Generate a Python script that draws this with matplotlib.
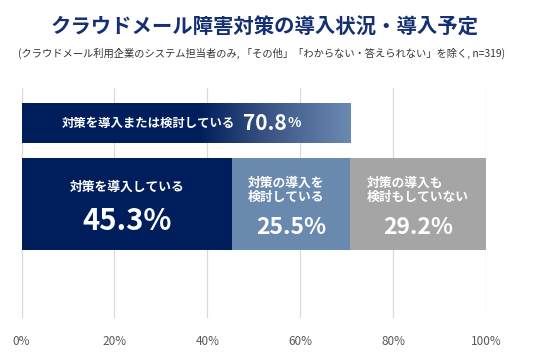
import numpy as np
import matplotlib
matplotlib.use('Agg')
import matplotlib.pyplot as plt
from matplotlib.colors import LinearSegmentedColormap

plt.rcParams['font.family'] = ['Noto Sans CJK JP', 'DejaVu Sans']

title = 'クラウドメール障害対策の導入状況・導入予定'
subtitle = '(クラウドメール利用企業のシステム担当者のみ, 「その他」「わからない・答えられない」を除く, n=319)'

total_label = '対策を導入または検討している'
total_value = 70.8

seg_labels = ['対策を導入している', '対策の導入を\n検討している', '対策の導入も\n検討もしていない']
seg_values = [45.3, 25.5, 29.2]
seg_colors = ['#001E5C', '#6A89AE', '#A5A5A5']

ticks = [0, 20, 40, 60, 80, 100]

W, H = 551, 356
fig = plt.figure(figsize=(W / 100, H / 100), dpi=100)
ax = fig.add_axes([21.5 / W, (H - 318) / H, (486 - 21.5) / W, 230 / H])
ax.set_xlim(0, 100)
ax.set_ylim(0, 230)

# bar positions in axis units (0 = bottom of plot)
y_top, h_top = 195, 40
y_bot, h_bot = 114, 92

for t in ticks:
    ax.axvline(t, color='#D9D9D9', lw=0.9, zorder=0)

# top bar with gradient
bar = ax.barh(y_top, total_value, height=h_top, color='none', zorder=2)[0]
cmap = LinearSegmentedColormap.from_list('g', [(0, '#001E5C'), (0.54, '#001E5C'),
                                               (0.75, '#3A5585'), (1, '#6B8AB1')])
grad = np.linspace(0, 1, 256).reshape(1, -1)
im = ax.imshow(grad, cmap=cmap, aspect='auto', zorder=2,
               extent=[0, total_value, y_top - h_top / 2, y_top + h_top / 2])
im.set_clip_path(bar)

ax.text(27.4, y_top, total_label, color='white', fontsize=8.9,
        fontweight='bold', ha='center', va='center', zorder=3)
num = ax.text(47.7, y_top, f'{total_value:.1f}', color='white', fontsize=15,
              fontweight='bold', ha='left', va='center', zorder=3)
ax.annotate('%', xy=(1, 0), xycoords=num, xytext=(0.5, 2.5), textcoords='offset points',
            color='white', fontsize=10, fontweight='bold', ha='left', va='bottom', zorder=3)

left = 0
for i, (lab, v, c) in enumerate(zip(seg_labels, seg_values, seg_colors)):
    ax.barh(y_bot, v, left=left, height=h_bot, color=c, zorder=2)
    if i == 0:
        ax.text(left + v / 2, y_bot + 17, lab, color='white', fontsize=9.2,
                fontweight='bold', ha='center', va='center', zorder=3)
        ax.text(left + v / 2, y_bot - 17, f'{v:.1f}%', color='white', fontsize=21,
                fontweight='bold', ha='center', va='center', zorder=3)
    else:
        ax.text(left + 3.5, y_bot + 14, lab, color='white', fontsize=9.2,
                fontweight='bold', ha='left', va='center', linespacing=1.15, zorder=3)
        ax.text(left + v / 2, y_bot - 24, f'{v:.1f}%', color='white', fontsize=16.5,
                fontweight='bold', ha='center', va='center', zorder=3)
    left += v

ax.set_xticks(ticks)
ax.set_xticklabels([f'{t}%' for t in ticks], color='#595959', fontsize=8.5)
ax.tick_params(axis='x', length=0, pad=12)
ax.set_yticks([])
for s in ax.spines.values():
    s.set_visible(False)

fig.text(265 / W, 1 - 27 / H, title, color='#143072', fontsize=14.7,
         fontweight='bold', ha='center', va='center')
fig.text(18 / W, 1 - 53 / H, subtitle, color='#333333', fontsize=7.4,
         ha='left', va='center')

fig.savefig('out.png', dpi=100)
